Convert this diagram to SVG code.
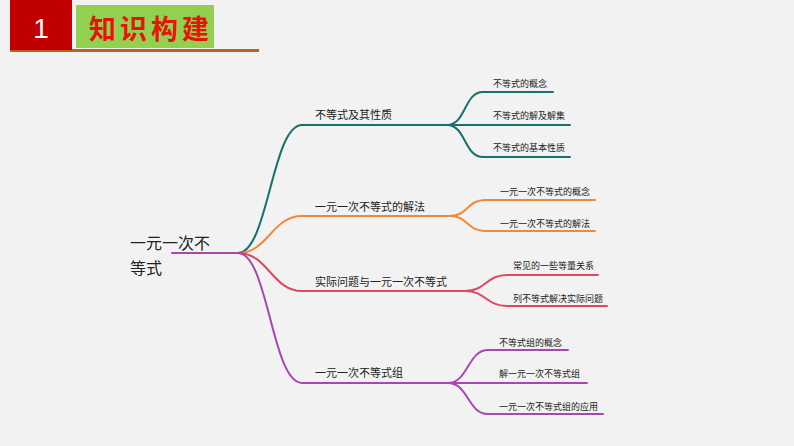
<svg xmlns="http://www.w3.org/2000/svg" width="794" height="446" viewBox="0 0 794 446">
<style>
text{font-family:"Noto Sans CJK SC","Liberation Sans",sans-serif;fill:#222}
.m{font-size:11px}
.s{font-size:9px}
.r{font-size:16px}
.ln{fill:none;stroke-width:2;stroke-linecap:round}
.t{stroke:#18716b}.o{stroke:#ee8a3c}.p{stroke:#e04862}.v{stroke:#a747b0}
</style>
<rect x="0" y="0" width="794" height="446" fill="#f2f2f2"/>
<g id="header">
<rect x="10" y="49" width="249" height="3" fill="#c0601e"/>
<rect x="10" y="0" width="62" height="50" fill="#c00000"/>
<text x="41" y="38" text-anchor="middle" style="font-family:'Liberation Sans',sans-serif;font-size:28px;fill:#fff">1</text>
<rect x="76" y="5" width="138" height="43" fill="#92d050"/>
<text x="89" y="39" style="font-size:27px;font-weight:bold;fill:#e8140c;letter-spacing:4px">知识构建</text>
</g>
<g id="connectors">
<path class="ln v" d="M172,253 H238"/>
<path class="ln t" d="M238,253 C268,253 272,125 302,125 H447"/>
<path class="ln o" d="M238,253 C268,253 272,216 302,216 H450"/>
<path class="ln p" d="M238,253 C268,253 272,291 302,291 H465"/>
<path class="ln v" d="M238,253 C268,253 272,383 302,383 H448"/>
<path class="ln t" d="M447,125 C466,125 464,92 483,92 H553"/>
<path class="ln t" d="M447,125 H570"/>
<path class="ln t" d="M447,125 C466,125 464,157 483,157 H570"/>
<path class="ln o" d="M450,216 C468,216 467,200 485,200 H595"/>
<path class="ln o" d="M450,216 C468,216 467,231 485,231 H595"/>
<path class="ln p" d="M465,291 C486,291 486,275 507,275 H598"/>
<path class="ln p" d="M465,291 C486,291 486,306 507,306 H607"/>
<path class="ln v" d="M448,383 C468,383 468,350 488,350 H568"/>
<path class="ln v" d="M448,383 H587"/>
<path class="ln v" d="M448,383 C468,383 468,414 488,414 H603"/>
</g>
<g id="root"><text class="r" x="130" y="249">一元一次不</text><text class="r" x="130" y="274">等式</text></g>
<g id="b1"><text class="m" x="315" y="119">不等式及其性质</text></g>
<g id="b2"><text class="m" x="315" y="211">一元一次不等式的解法</text></g>
<g id="b3"><text class="m" x="315" y="286">实际问题与一元一次不等式</text></g>
<g id="b4"><text class="m" x="315" y="377">一元一次不等式组</text></g>
<g id="b1a"><text class="s" x="493" y="86.5">不等式的概念</text></g>
<g id="b1b"><text class="s" x="493" y="118.5">不等式的解及解集</text></g>
<g id="b1c"><text class="s" x="493" y="150.5">不等式的基本性质</text></g>
<g id="b2a"><text class="s" x="500" y="194.5">一元一次不等式的概念</text></g>
<g id="b2b"><text class="s" x="500" y="226.5">一元一次不等式的解法</text></g>
<g id="b3a"><text class="s" x="513" y="268.5">常见的一些等量关系</text></g>
<g id="b3b"><text class="s" x="513" y="301.5">列不等式解决实际问题</text></g>
<g id="b4a"><text class="s" x="499" y="345.5">不等式组的概念</text></g>
<g id="b4b"><text class="s" x="499" y="376.5">解一元一次不等式组</text></g>
<g id="b4c"><text class="s" x="499" y="409.5">一元一次不等式组的应用</text></g>
</svg>
